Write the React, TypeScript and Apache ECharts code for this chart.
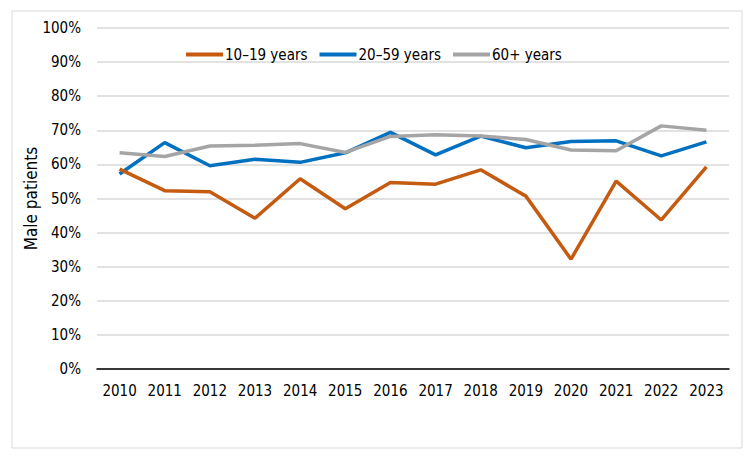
import React, { useEffect, useRef } from "react";
import * as echarts from "echarts";

const years = ["2010", "2011", "2012", "2013", "2014", "2015", "2016", "2017", "2018", "2019", "2020", "2021", "2022", "2023"];
const teens = [58.6, 52.3, 52.0, 44.2, 55.8, 47.0, 54.7, 54.2, 58.4, 50.7, 32.2, 55.1, 43.7, 59.3];
const adults = [57.2, 66.4, 59.6, 61.5, 60.6, 63.4, 69.4, 62.8, 68.3, 64.9, 66.7, 66.9, 62.5, 66.6];
const seniors = [63.4, 62.3, 65.4, 65.6, 66.1, 63.5, 68.2, 68.7, 68.3, 67.3, 64.2, 64.0, 71.3, 70.0];
const seriesNames = ["10–19 years", "20–59 years", "60+ years"];
const colors = ["#C55A11", "#0070C0", "#A5A5A5"];

const FONT = "'Liberation Sans Narrow', 'DejaVu Sans Condensed', 'Open Sans', sans-serif";

export default function App() {
  const ref = useRef<HTMLDivElement>(null);

  useEffect(() => {
    if (!ref.current) return;
    const chart = echarts.init(ref.current, null, { renderer: "svg" });
    const data = [teens, adults, seniors];
    chart.setOption({
      animation: false,
      backgroundColor: "#ffffff",
      color: colors,
      textStyle: { fontFamily: FONT },
      graphic: [
        {
          type: "rect",
          shape: { x: 12, y: 11, width: 730, height: 437 },
          style: { fill: "none", stroke: "#d9d9d9", lineWidth: 1 },
          silent: true,
        },
      ],
      legend: {
        top: 42,
        left: 181,
        itemWidth: 37,
        itemHeight: 4,
        itemGap: 12,
        icon: "rect",
        textStyle: { fontFamily: FONT, fontSize: 15, color: "#000", padding: [0, 0, 0, -3] },
        data: seriesNames,
      },
      grid: { left: 97, right: 26, top: 28, bottom: 91, containLabel: false },
      xAxis: {
        type: "category",
        data: years,
        boundaryGap: true,
        axisLine: { lineStyle: { color: "#000", width: 1.5 } },
        axisTick: { show: false },
        axisLabel: { color: "#000", fontSize: 15, fontFamily: FONT, margin: 14 },
      },
      yAxis: {
        type: "value",
        min: 0,
        max: 100,
        interval: 10,
        name: "Male patients",
        nameLocation: "middle",
        nameGap: 58,
        nameMoveOverlap: false,
        nameRotate: 90,
        nameTextStyle: { color: "#000", fontSize: 17, fontFamily: FONT },
        axisLine: { show: false },
        axisTick: { show: false },
        splitLine: { lineStyle: { color: "#d9d9d9", width: 1.5 } },
        axisLabel: { color: "#000", fontSize: 15, fontFamily: FONT, margin: 16, formatter: "{value}%" },
      },
      series: seriesNames.map((name, i) => ({
        name,
        type: "line",
        data: data[i],
        symbol: "none",
        lineStyle: { width: 3.5, color: colors[i] },
        z: i === 0 ? 3 : i === 1 ? 2 : 4,
      })),
    });
    return () => chart.dispose();
  }, []);

  return (
    <div
      ref={ref}
      style={{ position: "absolute", left: 0, top: 0, width: 755, height: 460 }}
    />
  );
}
